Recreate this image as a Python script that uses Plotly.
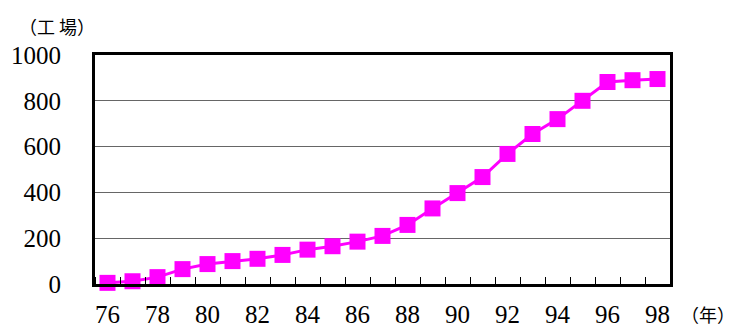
import plotly.graph_objects as go

# Number of factories per year (1976-1998)
years = [76, 77, 78, 79, 80, 81, 82, 83, 84, 85, 86, 87,
         88, 89, 90, 91, 92, 93, 94, 95, 96, 97, 98]
factories = [5, 12, 30, 65, 87, 100, 110, 127, 150, 165, 185, 210,
             258, 330, 397, 467, 568, 655, 720, 800, 882, 890, 895]

x_tick_vals = [76, 78, 80, 82, 84, 86, 88, 90, 92, 94, 96, 98]
y_tick_vals = [0, 200, 400, 600, 800, 1000]

serif = "Liberation Serif, DejaVu Serif, serif"
cjk = "Noto Sans CJK JP, sans-serif"

fig = go.Figure()
fig.add_trace(go.Scatter(
    x=years, y=factories, mode="lines+markers",
    line=dict(color="#FF00FF", width=3),
    marker=dict(symbol="square", size=16, color="#FF00FF"),
    cliponaxis=False, hoverinfo="x+y",
))

fig.update_layout(
    width=736, height=327,
    margin=dict(l=95, r=66, t=55, b=43),
    paper_bgcolor="white", plot_bgcolor="white",
    showlegend=False,
    font=dict(family=serif, size=25, color="black"),
)

fig.update_xaxes(
    range=[75.5, 98.5], automargin=False,
    tickvals=x_tick_vals, ticktext=[str(v) for v in x_tick_vals],
    ticks="", showgrid=False, zeroline=False,
    showline=True, linecolor="black", linewidth=3, mirror=True,
    ticklabelstandoff=6,
    minor=dict(tick0=75.5, dtick=1, ticks="inside", ticklen=7,
               tickcolor="black", tickwidth=1, showgrid=False),
)

fig.update_yaxes(
    range=[0, 1000], automargin=False,
    tickvals=y_tick_vals, ticktext=[str(v) for v in y_tick_vals],
    ticks="", showgrid=True, gridcolor="#666666", gridwidth=1,
    zeroline=False,
    showline=True, linecolor="black", linewidth=3, mirror=True,
    ticklabelstandoff=26,
)

# Unit labels
fig.add_annotation(text="（工 場）", xref="paper", yref="paper",
                   x=-0.135, y=1.19, xanchor="left", yanchor="top",
                   showarrow=False, font=dict(family=cjk, size=18, color="black"))
fig.add_annotation(text="（年）", xref="paper", yref="paper",
                   x=1.015, y=-0.13, xanchor="left", yanchor="middle",
                   showarrow=False, font=dict(family=cjk, size=18, color="black"))

fig.write_html("out.html")
